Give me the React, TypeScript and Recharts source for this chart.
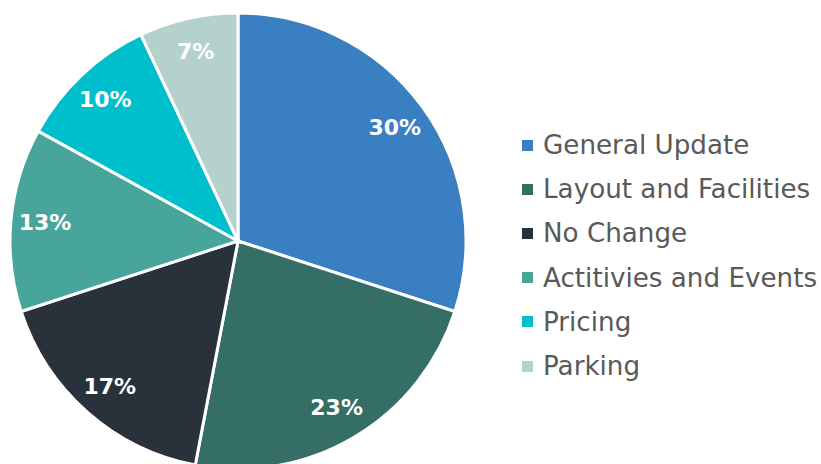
import { Cell, Legend, Pie, PieChart } from 'recharts';

const categories = [
  'General Update',
  'Layout and Facilities',
  'No Change',
  'Actitivies and Events',
  'Pricing',
  'Parking',
];
const shares = [30, 23, 17, 13, 10, 7];
const COLORS = ['#3A7FC2', '#346E67', '#29313A', '#48A59C', '#00BFCC', '#B5D1CD'];

const data = categories.map((name, i) => ({ name, value: shares[i] }));

const FONT = '"DejaVu Sans", sans-serif';
const RADIAN = Math.PI / 180;

function renderLabel(props: any) {
  const { cx, cy, midAngle, outerRadius, value } = props;
  const r = outerRadius * 0.85;
  const x = cx + r * Math.cos(-midAngle * RADIAN);
  const y = cy + r * Math.sin(-midAngle * RADIAN);
  return (
    <text
      x={x}
      y={y}
      fill="#FFFFFF"
      textAnchor="middle"
      dominantBaseline="central"
      fontFamily={FONT}
      fontWeight="bold"
      fontSize={22}
    >
      {`${value}%`}
    </text>
  );
}

function LegendList() {
  return (
    <div style={{ fontFamily: FONT }}>
      {categories.map((name, i) => (
        <div key={name} style={{ display: 'flex', alignItems: 'center', height: 44.2 }}>
          <span
            style={{ width: 11, height: 11, background: COLORS[i], display: 'inline-block', marginRight: 10 }}
          />
          <span style={{ fontSize: 26.2, color: '#595959', whiteSpace: 'nowrap' }}>{name}</span>
        </div>
      ))}
    </div>
  );
}

export default function App() {
  return (
    <div style={{ position: 'absolute', left: 0, top: 0, background: '#fff' }}>
      <PieChart width={821} height={464}>
        <Pie
          data={data}
          dataKey="value"
          nameKey="name"
          cx={233}
          cy={236}
          outerRadius={228}
          startAngle={90}
          endAngle={-270}
          stroke="#FFFFFF"
          strokeWidth={3}
          label={renderLabel}
          labelLine={false}
          isAnimationActive={false}
        >
          {data.map((d, i) => (
            <Cell key={d.name} fill={COLORS[i]} />
          ))}
        </Pie>
        <Legend content={<LegendList />} wrapperStyle={{ left: 522, top: 123, width: 300 }} />
      </PieChart>
    </div>
  );
}
